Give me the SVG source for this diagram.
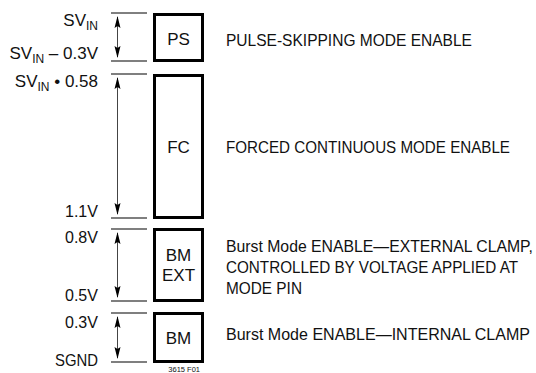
<svg xmlns="http://www.w3.org/2000/svg" width="536" height="373" viewBox="0 0 536 373">
<style>
text{font-family:"Liberation Sans Narrow","Liberation Sans",Arial,sans-serif;font-size:17px;fill:#111}
.l{text-anchor:end}
.c{text-anchor:middle}
.r{font-size:15.5px}
.box{fill:#fff;stroke:#000;stroke-width:3}
.tick{stroke:#555;stroke-width:1.5}
.shaft{stroke:#444;stroke-width:1}
.sub{font-size:12px}
</style>
<defs>
<marker id="ah" viewBox="0 0 12 8" refX="11" refY="4" markerWidth="12" markerHeight="8" markerUnits="userSpaceOnUse" orient="auto-start-reverse">
<path d="M0,1 L12,4 L0,7 L2,4 Z" fill="#000"/>
</marker>
</defs>
<g id="connectors">
<line class="tick" x1="111" y1="13" x2="147" y2="13" style="stroke:#000;stroke-width:1"/>
<line class="tick" x1="111" y1="61" x2="147" y2="61"/>
<line class="tick" x1="111" y1="74" x2="147" y2="74"/>
<line class="tick" x1="111" y1="218" x2="147" y2="218"/>
<line class="tick" x1="111" y1="229" x2="147" y2="229"/>
<line class="tick" x1="111" y1="301" x2="147" y2="301"/>
<line class="tick" x1="111" y1="313" x2="147" y2="313"/>
<line class="tick" x1="111" y1="362" x2="147" y2="362"/>
<line class="shaft" x1="117.5" y1="17" x2="117.5" y2="57" marker-start="url(#ah)" marker-end="url(#ah)"/>
<line class="shaft" x1="117.5" y1="78" x2="117.5" y2="214" marker-start="url(#ah)" marker-end="url(#ah)"/>
<line class="shaft" x1="117.5" y1="233" x2="117.5" y2="297" marker-start="url(#ah)" marker-end="url(#ah)"/>
<line class="shaft" x1="117.5" y1="317" x2="117.5" y2="358" marker-start="url(#ah)" marker-end="url(#ah)"/>
</g>
<g id="labels">
<text class="l" x="98" y="26">SV<tspan class="sub" dy="4">IN</tspan></text>
<text class="l" x="98" y="59">SV<tspan class="sub" dy="4">IN</tspan><tspan dy="-4"> – 0.3V</tspan></text>
<text class="l" x="98" y="87">SV<tspan class="sub" dy="4">IN</tspan><tspan dy="-4"> • 0.58</tspan></text>
<text class="l" x="98" y="217" textLength="33" lengthAdjust="spacingAndGlyphs">1.1V</text>
<text class="l" x="98" y="243" textLength="33" lengthAdjust="spacingAndGlyphs">0.8V</text>
<text class="l" x="98" y="301" textLength="33" lengthAdjust="spacingAndGlyphs">0.5V</text>
<text class="l" x="98" y="328" textLength="33" lengthAdjust="spacingAndGlyphs">0.3V</text>
<text class="l" x="98" y="366" textLength="43" lengthAdjust="spacingAndGlyphs">SGND</text>
</g>
<g id="ps">
<rect class="box" x="154.5" y="14.5" width="48" height="46"/>
<text class="c" x="178.5" y="45">PS</text>
<text class="r" transform="scale(1,1.1)" x="226" y="41.82" textLength="246" lengthAdjust="spacingAndGlyphs">PULSE-SKIPPING MODE ENABLE</text>
</g>
<g id="fc">
<rect class="box" x="154.5" y="75.5" width="48" height="142"/>
<text class="c" x="178.5" y="153">FC</text>
<text class="r" transform="scale(1,1.1)" x="226" y="139.09" textLength="284" lengthAdjust="spacingAndGlyphs">FORCED CONTINUOUS MODE ENABLE</text>
</g>
<g id="bmext">
<rect class="box" x="154.5" y="229.5" width="48" height="71"/>
<text class="c" x="178.5" y="261">BM</text>
<text class="c" x="178.5" y="281">EXT</text>
<text class="r" transform="scale(1,1.1)" x="226" y="229.09" textLength="307" lengthAdjust="spacingAndGlyphs">Burst Mode ENABLE—EXTERNAL CLAMP,</text>
<text class="r" transform="scale(1,1.1)" x="226" y="248.18" textLength="292" lengthAdjust="spacingAndGlyphs">CONTROLLED BY VOLTAGE APPLIED AT</text>
<text class="r" transform="scale(1,1.1)" x="226" y="267.27" textLength="76" lengthAdjust="spacingAndGlyphs">MODE PIN</text>
</g>
<g id="bm">
<rect class="box" x="154.5" y="313.5" width="48" height="48"/>
<text class="c" x="178.5" y="344">BM</text>
<text class="r" transform="scale(1,1.1)" x="226" y="309.09" textLength="304" lengthAdjust="spacingAndGlyphs">Burst Mode ENABLE—INTERNAL CLAMP</text>
</g>
<text x="200" y="371.5" style="font-size:7.5px;text-anchor:end">3615 F01</text>
</svg>
